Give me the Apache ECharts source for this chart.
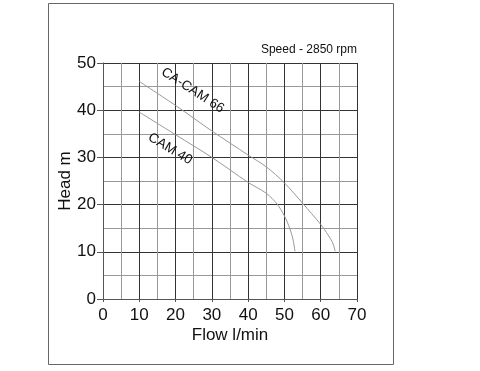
<!DOCTYPE html>
<html>
<head>
<meta charset="utf-8">
<script src="https://cdn.jsdelivr.net/npm/echarts@6/dist/echarts.min.js"></script>
<style>html,body{margin:0;padding:0;background:#fff;}#c{width:480px;height:371px;}</style>
</head>
<body>
<div id="c"></div>
<script>
var xTicks = [0, 10, 20, 30, 40, 50, 60, 70];
var yTicks = [0, 10, 20, 30, 40, 50];
var seriesNames = ['CA-CAM 66', 'CAM 40'];
var cacam66 = [[10,46.1],[20,41],[30,35.6],[40,30.5],[45,28],[50,24.6],[55,20.3],[60,15.8],[62,13.6],[63.3,11.9],[64,10.1]];
var cam40 = [[10,39.6],[20,34.8],[30,30],[40,24.7],[45,22.4],[48,20.1],[50,17.6],[51.5,14.9],[52.4,12.5],[52.9,10.1]];
var labelPos = [[24.7,44.2],[18.5,31.8]];
var speedText = 'Speed - 2850 rpm';

var chart = echarts.init(document.getElementById('c'), null, {renderer:'canvas'});
var font = '"Liberation Sans", Arial, sans-serif';
var option = {
  animation: false,
  backgroundColor: '#fff',
  grid: {left: 103, right: 123, top: 63, bottom: 72, containLabel: false},
  xAxis: {
    type: 'value', min: xTicks[0], max: xTicks[xTicks.length-1], interval: 10,
    name: 'Flow l/min', nameLocation: 'middle', nameGap: 28, nameMoveOverlap: false,
    nameTextStyle: {fontFamily: font, fontSize: 17, color: '#111'},
    axisLine: {show: true, lineStyle: {color: '#555', width: 1}},
    axisTick: {show: true, length: 3, lineStyle: {color: '#555'}},
    axisLabel: {fontFamily: font, fontSize: 17, color: '#111', margin: 8},
    splitLine: {show: true, lineStyle: {color: '#333', width: 1}},
    minorTick: {show: false, splitNumber: 2},
    minorSplitLine: {show: true, lineStyle: {color: '#999', width: 1}}
  },
  yAxis: {
    type: 'value', min: yTicks[0], max: yTicks[yTicks.length-1], interval: 10,
    name: 'Head m', nameLocation: 'middle', nameGap: 29, nameMoveOverlap: false,
    nameTextStyle: {fontFamily: font, fontSize: 17, color: '#111'},
    axisLine: {show: true, lineStyle: {color: '#555', width: 1}},
    axisTick: {show: true, length: 6, lineStyle: {color: '#555'}},
    axisLabel: {fontFamily: font, fontSize: 17, color: '#111', margin: 7},
    splitLine: {show: true, lineStyle: {color: '#333', width: 1}},
    minorTick: {show: false, splitNumber: 2},
    minorSplitLine: {show: true, lineStyle: {color: '#999', width: 1}}
  },
  series: [
    {name: seriesNames[0], type: 'line', data: cacam66, smooth: 0.3, showSymbol: false,
     lineStyle: {color: '#999', width: 1}},
    {name: seriesNames[1], type: 'line', data: cam40, smooth: 0.3, showSymbol: false,
     lineStyle: {color: '#999', width: 1}}
  ]
};
chart.setOption(option);

var p1 = chart.convertToPixel({gridIndex: 0}, labelPos[0]);
var p2 = chart.convertToPixel({gridIndex: 0}, labelPos[1]);
var right = chart.convertToPixel({gridIndex: 0}, [xTicks[xTicks.length-1], yTicks[yTicks.length-1]]);
chart.setOption({
  graphic: [
    {type: 'rect', shape: {x: 48.5, y: 3.5, width: 345, height: 361}, style: {fill: 'none', stroke: '#666', lineWidth: 1}, z: -1},
    {type: 'text', x: p1[0], y: p1[1], rotation: -33*Math.PI/180,
     style: {text: seriesNames[0], fontFamily: font, fontSize: 13.5, fill: '#111', align: 'center', verticalAlign: 'middle'}},
    {type: 'text', x: p2[0], y: p2[1], rotation: -31*Math.PI/180,
     style: {text: seriesNames[1], fontFamily: font, fontSize: 13.5, fill: '#111', align: 'center', verticalAlign: 'middle'}},
    {type: 'text', x: right[0], y: right[1] - 13,
     style: {text: speedText, fontFamily: font, fontSize: 12, fill: '#111', align: 'right', verticalAlign: 'middle'}}
  ]
});
</script>
</body>
</html>
